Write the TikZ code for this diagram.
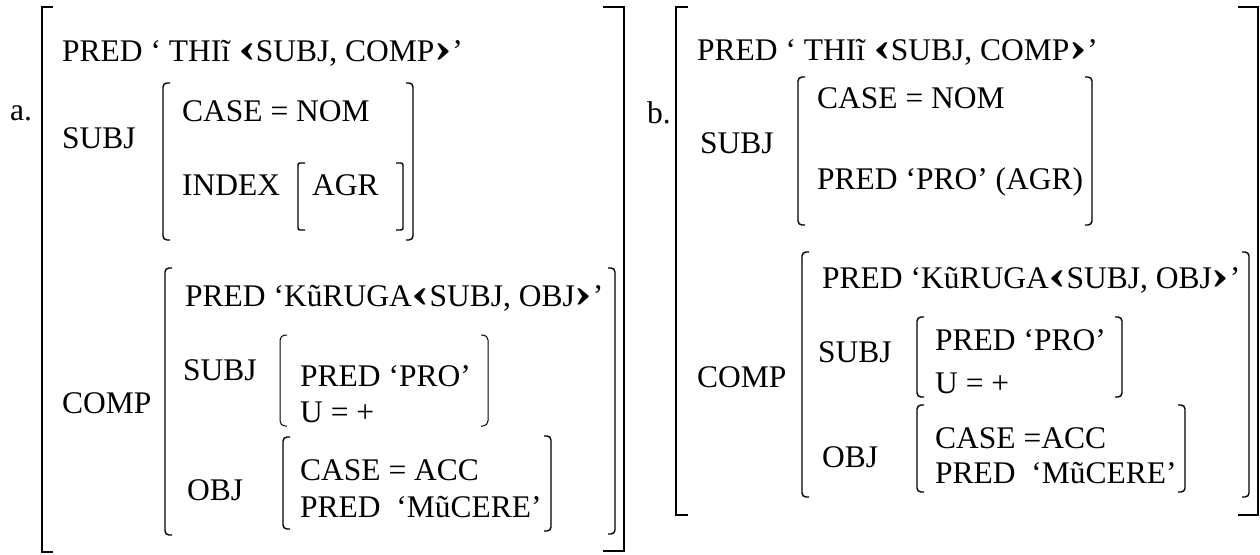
\documentclass[tikz,border=0pt]{standalone}
\usepackage{fontspec}
\usepackage{graphicx}
\setmainfont{Liberation Serif}
\begin{document}
% Feature structures (f-structures) for two analyses, drawn in pixel-like units
\newcommand\FSleft[4][inner]{\draw[#1] ({#2+7},#3) -- (#2,#3) -- (#2,#4) -- ({#2+7},#4);}
\newcommand\FSright[4][inner]{\draw[#1] ({#2-7},#3) -- (#2,#3) -- (#2,#4) -- ({#2-7},#4);}
\newcommand\la{\scalebox{1.7}[1.35]{\bfseries ‹}}
\newcommand\ra{\scalebox{1.7}[1.35]{\bfseries ›}}
\begin{tikzpicture}[x=1pt,y=-1pt,
  txt/.style={anchor=base west, inner sep=0pt, font=\fontsize{31.5}{36}\selectfont},
  outer/.style={line width=1.9pt},
  inner/.style={line width=1.4pt, rounded corners=4pt},
  thin/.style={line width=1pt, rounded corners=5pt}]
\useasboundingbox (0,0) rectangle (1260,554);

% ---------------- (a) ----------------
\node[txt] (aLab)  at (10,120)  {a.};
\node[txt] (aPred) at (62,61)   {PRED ‘ THIĩ \la SUBJ, COMP\ra’};
\node[txt] (aSubj) at (62,148)  {SUBJ};
\node[txt] (aCase) at (182,121) {CASE = NOM};
\node[txt] (aIdx)  at (182,195) {INDEX};
\node[txt] (aAgr)  at (312,195) {AGR};
\node[txt] (aComp) at (62,413)  {COMP};
\node[txt] (aCPred) at (185,306) {PRED ‘KũRUGA\la SUBJ, OBJ\ra’};
\node[txt] (aCSubj) at (183,380) {SUBJ};
\node[txt] (aPro)  at (300,386) {PRED ‘PRO’};
\node[txt] (aU)    at (300,422) {U = +};
\node[txt] (aObj)  at (187,500) {OBJ};
\node[txt] (aAcc)  at (300,480) {CASE = ACC};
\node[txt] (aMu)   at (300,517) {PRED\ \ ‘MũCERE’};

% outer bracket
\draw[outer] (53,7) -- (42,7) -- (42,552) -- (53,552);
\draw[outer] (603,7) -- (624,7) -- (624,551) -- (603,551);
% SUBJ value
\FSleft{163}{83}{240}
\FSright{413}{83}{240}
% INDEX value
\FSleft[inner, rounded corners=2pt]{298}{163}{230}
\FSright[inner, rounded corners=2pt]{403}{163}{230}
% COMP value
\FSleft{165}{268}{535}
\FSright{615}{268}{534}
% embedded SUBJ
\FSleft[thin]{280}{335}{426}
\FSright[thin]{488}{335}{426}
% embedded OBJ
\FSleft{283}{437}{529}
\FSright{551}{436}{531}

% ---------------- (b) ----------------
\node[txt] (bLab)  at (647,123) {b.};
\node[txt] (bPred) at (697,60)  {PRED ‘ THIĩ \la SUBJ, COMP\ra’};
\node[txt] (bSubj) at (700,153) {SUBJ};
\node[txt] (bCase) at (817,108) {CASE = NOM};
\node[txt] (bPro1) at (817,189) {PRED ‘PRO’ (AGR)};
\node[txt] (bComp) at (697,387) {COMP};
\node[txt] (bCPred) at (822,288) {PRED ‘KũRUGA\la SUBJ, OBJ\ra’};
\node[txt] (bCSubj) at (818,362) {SUBJ};
\node[txt] (bPro)  at (935,350) {PRED ‘PRO’};
\node[txt] (bU)    at (935,393) {U = +};
\node[txt] (bObj)  at (822,467) {OBJ};
\node[txt] (bAcc)  at (935,448) {CASE =ACC};
\node[txt] (bMu)   at (935,483) {PRED\ \ ‘MũCERE’};

% outer bracket
\draw[outer] (688,7) -- (676,7) -- (676,515) -- (688,515);
\draw[outer] (1238,7) -- (1258,7) -- (1258,515) -- (1238,515);
% SUBJ value
\FSleft{798}{77}{225}
\FSright{1092}{77}{225}
% COMP value
\FSleft{802}{252}{497}
\FSright{1249}{252}{497}
% embedded SUBJ
\FSleft{917}{317}{397}
\FSright{1122}{317}{397}
% embedded OBJ
\FSleft{917}{405}{492}
\FSright{1185}{405}{492}
\end{tikzpicture}
\end{document}
